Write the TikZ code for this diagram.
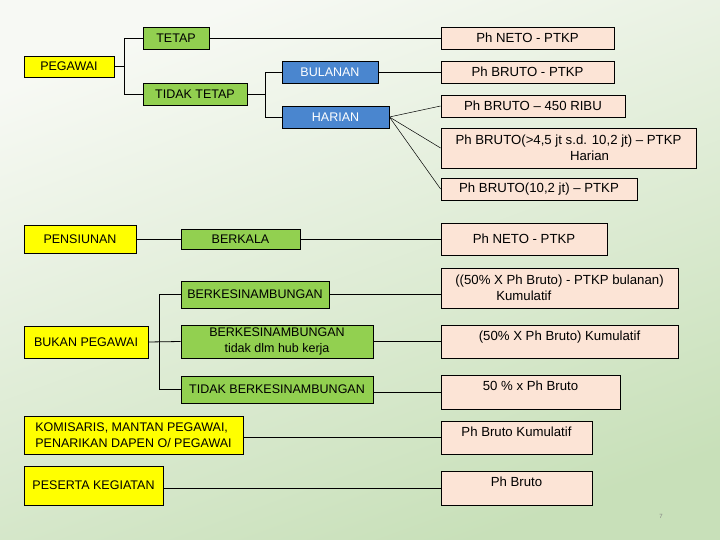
\documentclass[tikz,border=0pt]{standalone}
\usepackage{fontspec}
\setmainfont{Liberation Sans}
\usepackage{tikz}
\usetikzlibrary{positioning, calc}

\definecolor{bgtop}{HTML}{F7F9F4}
\definecolor{bgbottom}{HTML}{C8E0B9}
\definecolor{subjyellow}{HTML}{FFFF00}
\definecolor{catgreen}{HTML}{92D050}
\definecolor{catblue}{HTML}{4A86CF}
\definecolor{basepeach}{HTML}{FCE4D6}

\tikzstyle{subject} = [rectangle, draw, line width=0.8pt, fill=subjyellow, inner sep=2pt, text centered]
\tikzstyle{category} = [subject, fill=catgreen]
\tikzstyle{period} = [subject, fill=catblue, text=white]
\tikzstyle{base} = [subject, fill=basepeach, font=\fontsize{13.2}{16.5}\selectfont]
\tikzstyle{raised} = [text depth=12pt]
\tikzstyle{link} = [line width=0.8pt]
\tikzstyle{fan} = [line width=0.5pt]

\begin{document}
\begin{tikzpicture}[x=1pt, y=-1pt, font=\fontsize{12.5}{16.5}\selectfont]
    % background
    \shade[top color=bgtop, bottom color=bgbottom, shading angle=20] (0,0) rectangle (720,540);
    \useasboundingbox (0,0) rectangle (720,540);

    % pegawai
    \node (pegawai) [subject, minimum width=90, minimum height=21] at (69,66.5) {PEGAWAI};
    \node (tetap) [category, minimum width=66, minimum height=22] at (176,38) {TETAP};
    \node (tidaktetap) [category, minimum width=104, minimum height=22] at (195,94) {TIDAK TETAP};
    \node (bulanan) [period, minimum width=96, minimum height=22] at (330,72) {BULANAN};
    \node (harian) [period, minimum width=107, minimum height=22] at (335.5,117) {HARIAN};

    \node (netotetap) [base, minimum width=173, minimum height=22] at (527.5,38) {Ph NETO - PTKP};
    \node (brutobulan) [base, minimum width=173, minimum height=22] at (527.5,72) {Ph BRUTO - PTKP};
    \node (bruto450) [base, minimum width=184, minimum height=22] at (533,106) {Ph BRUTO – 450 RIBU};
    \node (brutoharian) [base, align=center, minimum width=255, minimum height=40] at (568.5,148)
        {Ph BRUTO(>4,5 jt s.d. 10,2 jt) – PTKP\\\hspace*{42pt}Harian};
    \node (bruto102) [base, minimum width=196, minimum height=22] at (539,189) {Ph BRUTO(10,2 jt) – PTKP};

    \draw[link] (pegawai.east) -- ++(11,0);
    \draw[link] (tetap.west) -- ++(-18,0) |- (tidaktetap.west);
    \draw[link] (tetap.east) -- (netotetap.west);
    \draw[link] (tidaktetap.east) -- ++(19,0);
    \draw[link] (bulanan.west) -- ++(-16,0) |- (harian.west);
    \draw[link] (bulanan.east) -- (brutobulan.west);
    \draw[fan] (harian.east) -- (bruto450.west);
    \draw[fan] (harian.east) -- (brutoharian.west);
    \draw[fan] (harian.east) -- (bruto102.west);

    % pensiunan
    \node (pensiunan) [subject, minimum width=112, minimum height=28] at (80,239) {PENSIUNAN};
    \node (berkala) [category, minimum width=119, minimum height=20] at (240.5,239) {BERKALA};
    \node (netopensiun) [base, minimum width=166, minimum height=32] at (524,239) {Ph NETO - PTKP};
    \draw[link] (pensiunan.east) -- (berkala.west);
    \draw[link] (berkala.east) -- (netopensiun.west);

    % bukan pegawai
    \node (bukan) [subject, minimum width=124, minimum height=32] at (86,342) {BUKAN PEGAWAI};
    \node (berkesin) [category, minimum width=148, minimum height=27] at (255,294.5) {BERKESINAMBUNGAN};
    \node (berkesintidak) [category, align=center, minimum width=192, minimum height=33] at (277,341.5)
        {BERKESINAMBUNGAN\\tidak dlm hub kerja};
    \node (tidakberkesin) [category, minimum width=192, minimum height=27] at (277,389.5) {TIDAK BERKESINAMBUNGAN};

    \node (kumulatif) [base, align=left, minimum width=237, minimum height=40] at (559.5,288)
        {((50\% X Ph Bruto) - PTKP bulanan)\\\hspace*{41pt}Kumulatif};
    \node (kumulatifhalf) [base, raised, minimum width=237, minimum height=33] at (559.5,341.5) {(50\% X Ph Bruto) Kumulatif};
    \node (halfbruto) [base, raised, minimum width=179, minimum height=34] at (530.5,392) {50 \% x Ph Bruto};

    \draw[link] (bukan.east) -- (berkesintidak.west);
    \draw[link] (berkesin.west) -- ++(-21,0) |- (tidakberkesin.west);
    \draw[link] (berkesin.east) -- (berkesin.east -| kumulatif.west);
    \draw[link] (berkesintidak.east) -- (kumulatifhalf.west);
    \draw[link] (halfbruto.west) -- (halfbruto.west -| tidakberkesin.east);

    % komisaris, peserta
    \node (komisaris) [subject, align=left, minimum width=219, minimum height=38] at (133.5,435)
        {KOMISARIS, MANTAN PEGAWAI,\\PENARIKAN DAPEN O/ PEGAWAI};
    \node (peserta) [subject, minimum width=139, minimum height=39] at (93.5,485.5) {PESERTA KEGIATAN};
    \node (brutokum) [base, raised, minimum width=151, minimum height=33] at (516.5,437.5) {Ph Bruto Kumulatif};
    \node (bruto) [base, raised, minimum width=151, minimum height=34] at (516.5,488) {Ph Bruto};
    \draw[link] (brutokum.west) -- (brutokum.west -| komisaris.east);
    \draw[link] (bruto.west) -- (bruto.west -| peserta.east);

    \node (pagenum) [text=gray, font=\fontsize{6}{7}\selectfont] at (661,516) {7};
\end{tikzpicture}
\end{document}
